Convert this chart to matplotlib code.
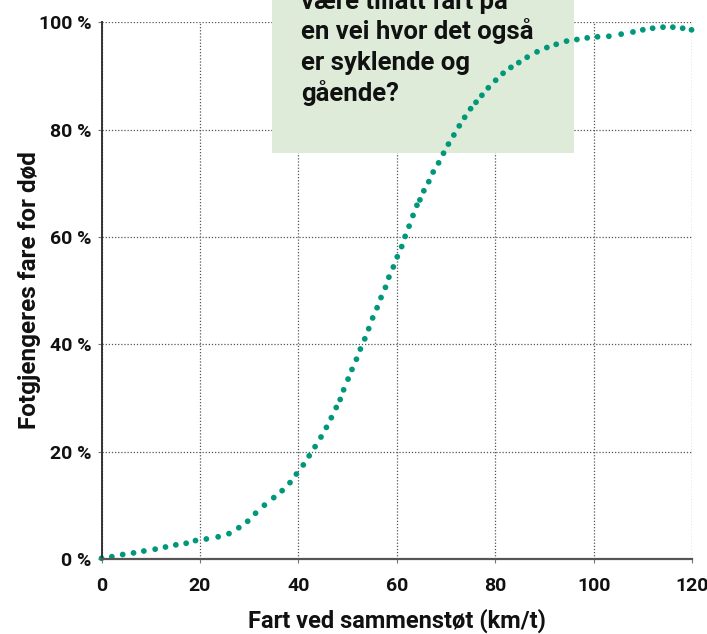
import matplotlib
matplotlib.use('Agg')
import matplotlib.pyplot as plt
from matplotlib.patches import Rectangle

# -----------------------------
# Data (km/t, % risk)
# -----------------------------
speed = [0, 2.1, 4.3, 6.5, 8.6, 10.9, 13.0, 15.1, 17.2, 19.1, 21.3, 23.7, 25.9,
         27.9, 29.7, 31.3, 33.1, 35.0, 36.7, 38.3, 39.6, 41.0, 42.2, 43.4, 44.6,
         45.7, 46.7, 47.7, 48.5, 49.2, 50.1, 50.9, 51.8, 52.6, 53.5, 54.3, 55.1,
         56.0, 56.8, 57.7, 58.4, 59.3, 60.1, 61.0, 61.7, 62.5, 63.3, 64.1, 64.7,
         65.5, 66.5, 67.4, 68.5, 69.5, 70.5, 71.6, 72.7, 73.8, 75.0, 76.1, 77.3,
         78.6, 80.1, 81.6, 83.2, 84.8, 86.5, 88.5, 90.5, 92.4, 94.5, 96.6, 98.7,
         100.8, 103.1, 105.6, 108.0, 110.0, 112.0, 114.1, 116.1, 118.1, 119.9]
risk = [0.1, 0.4, 0.8, 1.1, 1.45, 1.8, 2.2, 2.6, 2.9, 3.4, 3.7, 4.1, 4.7,
        5.8, 7.0, 8.5, 10.0, 11.4, 12.7, 14.2, 15.8, 17.5, 19.2, 20.9, 22.7,
        24.5, 26.3, 28.2, 29.7, 31.5, 33.5, 35.3, 37.2, 39.1, 41.0, 42.9, 44.9,
        46.8, 48.7, 50.6, 52.5, 54.4, 56.3, 58.2, 60.1, 62.0, 64.0, 65.9, 66.9,
        68.6, 70.3, 72.1, 73.8, 75.6, 77.3, 79.0, 80.7, 82.3, 83.9, 85.1, 86.4,
        87.8, 89.2, 90.5, 91.6, 92.5, 93.5, 94.5, 95.3, 95.9, 96.5, 96.8, 97.1,
        97.3, 97.4, 97.8, 98.2, 98.6, 98.9, 99.1, 99.1, 98.9, 98.6]

x_ticks = [0, 20, 40, 60, 80, 100, 120]
y_ticks = [0, 20, 40, 60, 80, 100]
y_ticklabels = ['0 %', '20 %', '40 %', '60 %', '80 %', '100 %']

box_lines = ['være tillatt fart på', 'en vei hvor det også', 'er syklende og', 'gående?']

DOT_COLOR = '#00987a'
BOX_COLOR = '#ddebd8'
FONT = ['Roboto', 'DejaVu Sans']

fig = plt.figure(figsize=(7.07, 6.34), dpi=100)
ax = fig.add_axes([0.1436, 0.1186, 0.8352, 0.8462])

ax.set_xlim(0, 120)
ax.set_ylim(0, 100)
ax.set_axisbelow(True)
ax.grid(True, linestyle=(0, (1, 1.5)), color='#555555', linewidth=0.9)

for side in ['top', 'right']:
    ax.spines[side].set_visible(False)
ax.spines['left'].set_color('#333333')
ax.spines['left'].set_linewidth(1.4)
ax.spines['bottom'].set_color('#555555')
ax.spines['bottom'].set_linewidth(1.6)

ax.set_xticks(x_ticks)
ax.set_yticks(y_ticks)
ax.set_yticklabels(y_ticklabels)
ax.tick_params(axis='both', length=3, width=0.8, color='#777777')
ax.tick_params(axis='x', pad=10)
ax.tick_params(axis='y', pad=4)
for lab in ax.get_xticklabels() + ax.get_yticklabels():
    lab.set_fontfamily(FONT)
    lab.set_fontweight('bold')
    lab.set_fontsize(14)
    lab.set_color('#111111')

ax.set_xlabel('Fart ved sammenstøt (km/t)', fontsize=17, fontweight='bold',
              family=FONT, color='#111111', labelpad=10)
ax.set_ylabel('Fotgjengeres fare for død', fontsize=17.5, fontweight='bold',
              family=FONT, color='#111111', labelpad=-1)

# green question box (cut off at the top in the original)
box = Rectangle((0.3847, 0.7587), 0.4272, 0.30, transform=fig.transFigure,
                facecolor=BOX_COLOR, edgecolor='none', zorder=1, clip_on=False)
ax.add_patch(box)

base_y = 1 - 9 / 634
for i, line in enumerate(box_lines):
    fig.text(0.4257, base_y - i * 30.5 / 634, line, fontsize=18.5, fontweight='bold',
             family=['Liberation Sans Narrow', 'Roboto'], color='#111111',
             va='baseline', ha='left', zorder=3)

ax.scatter(speed, risk, s=17, color=DOT_COLOR, edgecolors='none', zorder=2, clip_on=False)

fig.savefig('out.png', dpi=100)
